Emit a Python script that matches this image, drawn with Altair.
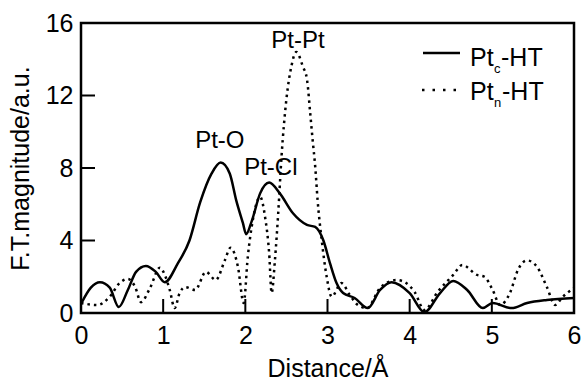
import altair as alt
import pandas as pd

# Pt_c-HT (solid line)
xc = [0.0, 0.12, 0.23, 0.35, 0.46, 0.57, 0.67, 0.79, 0.91, 1.02, 1.18, 1.32, 1.45, 1.59, 1.70,
      1.81, 1.89, 1.97, 2.01, 2.08, 2.18, 2.29, 2.42, 2.58, 2.75, 2.85, 2.95, 3.03, 3.11, 3.19,
      3.33, 3.49, 3.64, 3.78, 4.0, 4.18, 4.37, 4.53, 4.7, 4.89, 5.01, 5.24, 5.43, 5.67, 6.0]
yc = [0.5, 1.4, 1.7, 1.4, 0.33, 1.27, 2.27, 2.6, 2.27, 1.7, 2.75, 4.0, 6.1, 7.7, 8.3,
      7.7, 6.2, 4.97, 4.35, 5.1, 6.6, 7.2, 6.6, 5.5, 4.86, 4.75, 4.0, 2.75, 1.65, 1.1,
      0.83, 0.27, 1.27, 1.7, 1.1, 0.05, 1.1, 1.77, 1.27, 0.27, 0.55, 0.27, 0.55, 0.72, 0.83]

# Pt_n-HT (dotted line)
xn = [0.0, 0.2, 0.35, 0.47, 0.57, 0.66, 0.73, 0.84, 0.96, 1.02, 1.08, 1.14, 1.2, 1.27, 1.39,
      1.52, 1.64, 1.75, 1.82, 1.91, 1.98, 2.03, 2.09, 2.18, 2.24, 2.29, 2.32, 2.36, 2.4, 2.44,
      2.5, 2.56, 2.62, 2.7, 2.75, 2.79, 2.82, 2.85, 2.88, 2.93, 2.99, 3.05, 3.17, 3.27, 3.37,
      3.48, 3.64, 3.84, 3.94, 4.06, 4.18, 4.34, 4.53, 4.64, 4.82, 4.91, 5.01, 5.1, 5.22, 5.32,
      5.43, 5.55, 5.67, 5.77, 5.86, 6.0]
yn = [0.55, 0.44, 0.9, 1.65, 1.88, 1.43, 0.6, 1.38, 2.5, 2.1, 1.27, 0.27, 1.1, 1.43, 1.27,
      2.27, 1.82, 2.9, 3.6, 2.55, 0.55, 3.1, 5.1, 6.4, 5.3, 3.3, 1.1, 2.9, 5.5, 8.6,
      11.8, 13.6, 14.4, 13.6, 12.9, 11.0, 9.5, 8.1, 6.2, 4.0, 2.0, 0.9, 1.65, 1.0, 0.44,
      0.27, 1.38, 1.82, 1.7, 1.16, 0.16, 1.16, 2.1, 2.65, 2.1, 2.0, 1.27, 0.44, 1.1, 2.4,
      2.9, 2.55, 1.43, 0.44, 0.88, 1.38]

# Peak annotations
ann_text = ["Pt-O", "Pt-Cl", "Pt-Pt"]
ann_x = [1.69, 2.31, 2.64]
ann_y = [9.1, 7.6, 14.6]

x_ticks = [0, 1, 2, 3, 4, 5, 6]
y_ticks = [0, 4, 8, 12, 16]

W, H = 493, 290
FONT = "Liberation Sans"

xs = alt.Scale(domain=[0, 6], nice=False, zero=False)
ys = alt.Scale(domain=[0, 16], nice=False)
x_axis = alt.Axis(values=x_ticks, ticks=False, domain=False, grid=False, labelFlush=False,
                  labelPadding=10, titlePadding=8)
y_axis = alt.Axis(values=y_ticks, ticks=False, domain=False, grid=False, labelFlush=False,
                  labelPadding=8, titlePadding=12)
X = alt.X("x:Q", scale=xs, axis=x_axis, title="Distance/Å")
Y = alt.Y("y:Q", scale=ys, axis=y_axis, title="F.T.magnitude/a.u.")

df_c = pd.DataFrame({"x": xc, "y": yc})
df_n = pd.DataFrame({"x": xn, "y": yn})
df_ann = pd.DataFrame({"t": ann_text, "x": ann_x, "y": ann_y})
df_xt = pd.DataFrame({"x": x_ticks[1:-1]})
df_yt = pd.DataFrame({"y": y_ticks[1:-1]})
one = pd.DataFrame({"a": [0]})

line_c = alt.Chart(df_c).mark_line(color="black", strokeWidth=2.5, interpolate="monotone",
                                   clip=True).encode(x=X, y=Y)

line_n = alt.Chart(df_n).mark_line(color="black", strokeWidth=2.5, strokeDash=[2.5, 4],
                                   interpolate="monotone", clip=True).encode(x=X, y=Y)

xtick = alt.Chart(df_xt).mark_rule(color="black", strokeWidth=2).encode(
    x=X, y=alt.value(H), y2=alt.value(H - 14))
ytick = alt.Chart(df_yt).mark_rule(color="black", strokeWidth=2).encode(
    y=Y, x=alt.value(0), x2=alt.value(14))

ann = alt.Chart(df_ann).mark_text(fontSize=24, font=FONT, align="center", baseline="alphabetic",
                                  color="black").encode(x=X, y=Y, text="t:N")

# legend (drawn manually for subscripts)
def txt(t, px, py, fs):
    return alt.Chart(one).mark_text(text=t, fontSize=fs, font=FONT, align="left",
                                    baseline="alphabetic", color="black").encode(
        x=alt.value(px), y=alt.value(py))

leg_solid = alt.Chart(one).mark_rule(color="black", strokeWidth=2.5).encode(
    x=alt.value(342), x2=alt.value(379), y=alt.value(30))
leg_dot = alt.Chart(one).mark_rule(color="black", strokeWidth=2.5, strokeDash=[2.5, 8]).encode(
    x=alt.value(341), x2=alt.value(376), y=alt.value(67))

legend_layers = [
    leg_solid, leg_dot,
    txt("Pt", 389, 43, 25), txt("c", 413, 50, 13), txt("-HT", 420, 43, 25),
    txt("Pt", 389, 77, 25), txt("n", 413, 84, 13), txt("-HT", 421, 77, 25),
]

chart = alt.layer(line_c, line_n, xtick, ytick, ann, *legend_layers).properties(
    width=W, height=H,
    autosize=alt.AutoSizeParams(type="none"),
    padding={"left": 81, "top": 23, "right": 11, "bottom": 74},
    background="white",
).configure_view(stroke="black", strokeWidth=2.5).configure_axis(
    labelFont=FONT, titleFont=FONT, labelFontSize=25, titleFontSize=25,
    labelColor="black", titleColor="black", titleFontWeight="normal",
)

chart.save("out.html", embed_options={"renderer": "svg", "actions": False})
